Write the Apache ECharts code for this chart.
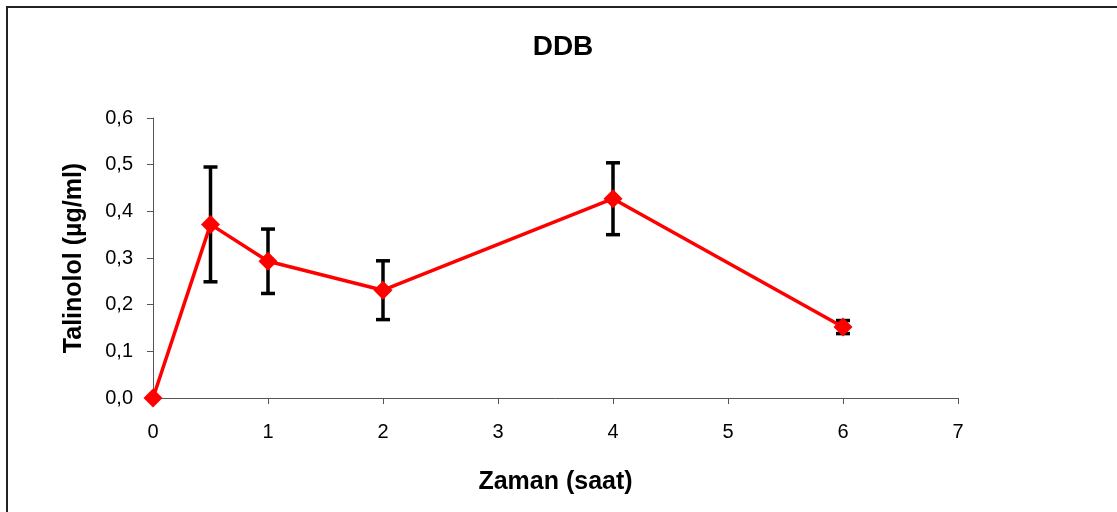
<!DOCTYPE html>
<html><head><meta charset="utf-8">
<script src="https://cdn.jsdelivr.net/npm/echarts@6/dist/echarts.min.js"></script>
<style>html,body{margin:0;padding:0;background:#fff}#c{width:1117px;height:512px}</style>
</head><body><div id="c"></div>
<script>
const timeHours = [0, 0.5, 1, 2, 4, 6];
const talinolol = [0, 0.372, 0.293, 0.231, 0.427, 0.152];
const errorSD   = [0, 0.123, 0.069, 0.063, 0.077, 0.014];
const xTicks = [0, 1, 2, 3, 4, 5, 6, 7];
const yTicks = [0, 0.1, 0.2, 0.3, 0.4, 0.5, 0.6];
const titleText = 'DDB';
const xName = 'Zaman (saat)';
const yName = 'Talinolol (µg/ml)';

const chart = echarts.init(document.getElementById('c'), null, {renderer: 'canvas'});
const font = 'Liberation Sans, Arial, sans-serif';
const lineData = timeHours.map((t, i) => [t, talinolol[i]]);
const errData = timeHours.map((t, i) => [t, talinolol[i] - errorSD[i], talinolol[i] + errorSD[i]]);

chart.setOption({
  animation: false,
  backgroundColor: '#fff',
  title: {text: titleText, left: 558, top: 28, textAlign: 'center',
    textStyle: {fontFamily: font, fontSize: 28, fontWeight: 'bold', color: '#000'}},
  graphic: [
    {type: 'line', shape: {x1: 6, y1: 7, x2: 1117, y2: 7}, style: {stroke: '#222', lineWidth: 2}},
    {type: 'line', shape: {x1: 7, y1: 6, x2: 7, y2: 512}, style: {stroke: '#222', lineWidth: 2}}
  ],
  grid: {left: 153, right: 159, top: 118, bottom: 114, containLabel: false},
  xAxis: {
    type: 'value', min: xTicks[0], max: xTicks[xTicks.length - 1], interval: 1,
    name: xName, nameLocation: 'middle', nameGap: 72,
    nameTextStyle: {fontFamily: font, fontSize: 25, fontWeight: 'bold', color: '#000'},
    axisLine: {show: true, onZero: false, lineStyle: {color: '#555', width: 1}},
    axisTick: {show: true, length: 6, lineStyle: {color: '#555'}},
    axisLabel: {fontFamily: font, fontSize: 20, color: '#000', margin: 24},
    splitLine: {show: false}
  },
  yAxis: {
    type: 'value', min: yTicks[0], max: yTicks[yTicks.length - 1], interval: 0.1,
    name: yName, nameLocation: 'middle', nameGap: 66, nameRotate: 90,
    nameTextStyle: {fontFamily: font, fontSize: 25, fontWeight: 'bold', color: '#000'},
    axisLine: {show: true, lineStyle: {color: '#555', width: 1}},
    axisTick: {show: true, length: 6, lineStyle: {color: '#555'}},
    axisLabel: {fontFamily: font, fontSize: 20, color: '#000', margin: 20,
      formatter: v => v.toFixed(1).replace('.', ',')},
    splitLine: {show: false}
  },
  series: [
    {
      type: 'custom', z: 1,
      renderItem: (params, api) => {
        const x = api.value(0);
        const lo = api.coord([x, api.value(1)]);
        const hi = api.coord([x, api.value(2)]);
        const w = 7;
        const st = {stroke: '#000', lineWidth: 3.5};
        return {type: 'group', children: [
          {type: 'line', shape: {x1: lo[0], y1: lo[1], x2: hi[0], y2: hi[1]}, style: st},
          {type: 'line', shape: {x1: lo[0] - w, y1: lo[1], x2: lo[0] + w, y2: lo[1]}, style: st},
          {type: 'line', shape: {x1: hi[0] - w, y1: hi[1], x2: hi[0] + w, y2: hi[1]}, style: st}
        ]};
      },
      encode: {x: 0, y: [1, 2]},
      data: errData.filter((d, i) => errorSD[i] > 0)
    },
    {
      type: 'line', z: 3, data: lineData,
      symbol: 'diamond', symbolSize: 19,
      lineStyle: {color: '#ff0000', width: 3.5},
      itemStyle: {color: '#ff0000'},
      clip: false
    }
  ]
});
</script></body></html>
